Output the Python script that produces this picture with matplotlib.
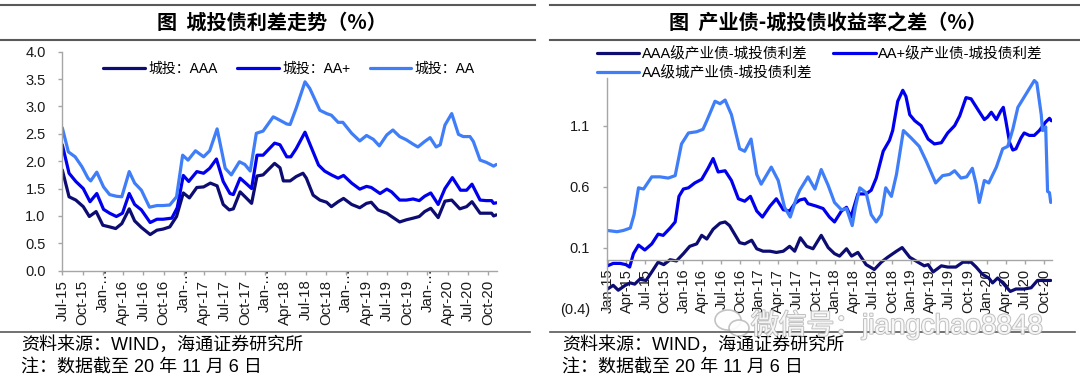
import matplotlib
matplotlib.use("Agg")
import matplotlib.pyplot as plt
import matplotlib.transforms as mtransforms
import matplotlib.patheffects as pe
from matplotlib.lines import Line2D
from matplotlib.patches import Ellipse
from matplotlib.ticker import FuncFormatter

# ---- left chart: 城投债利差走势, x = months since Jul-15 ----
ct_aaa_m = [0, 1.0, 2.0, 3.1, 4.0, 5.0, 6.0, 7.0, 7.9, 8.8, 9.9, 10.7, 11.7, 13.0, 14.0, 14.9, 15.9, 16.9,
            17.9, 18.8, 19.9, 20.9, 21.9, 22.9, 23.8, 24.7, 25.3, 26.3, 27.2, 28.0, 28.8, 29.7, 31.4, 32.2,
            32.7, 33.7, 34.6, 35.6, 36.1, 37.1, 38.1, 39.1, 39.8, 40.8, 41.6, 42.8, 44.0, 45.0, 45.7, 46.7,
            48.0, 48.7, 49.9, 50.9, 51.9, 52.8, 53.6, 54.5, 55.6, 56.6, 57.6, 58.8, 59.8, 60.6, 61.8, 62.7,
            63.5, 63.8, 64.2]
ct_aaa_v = [1.84, 1.35, 1.29, 1.17, 0.99, 1.08, 0.83, 0.80, 0.77, 0.86, 1.13, 0.91, 0.79, 0.66, 0.74, 0.76,
            0.80, 0.99, 1.42, 1.33, 1.52, 1.53, 1.60, 1.55, 1.21, 1.11, 1.13, 1.44, 1.33, 1.23, 1.73, 1.75,
            1.96, 1.88, 1.64, 1.64, 1.72, 1.78, 1.69, 1.38, 1.29, 1.25, 1.17, 1.26, 1.32, 1.21, 1.15, 1.23,
            1.25, 1.11, 1.05, 0.99, 0.89, 0.93, 0.96, 0.99, 1.08, 1.14, 0.97, 1.27, 1.29, 1.13, 1.17, 1.26,
            1.05, 1.05, 1.05, 1.00, 1.02]

ct_aap_m = [0, 1.0, 2.0, 3.1, 4.1, 5.1, 6.1, 7.0, 8.0, 8.9, 9.9, 10.7, 11.7, 13.0, 14.0, 14.9, 16.2, 17.0,
            17.9, 18.7, 19.9, 20.9, 21.8, 22.8, 23.8, 24.8, 25.3, 26.3, 27.3, 28.0, 28.8, 29.7, 31.4, 32.2,
            33.2, 33.8, 34.6, 35.9, 36.9, 37.9, 38.8, 39.8, 40.8, 41.6, 42.8, 44.0, 45.0, 45.7, 47.0, 48.0,
            48.7, 49.9, 50.9, 51.9, 52.8, 53.6, 54.5, 55.6, 56.6, 57.7, 58.9, 59.8, 60.6, 61.8, 62.7, 63.5,
            63.8, 64.2]
ct_aap_v = [2.30, 1.78, 1.63, 1.50, 1.26, 1.41, 1.12, 1.05, 0.99, 1.05, 1.41, 1.21, 1.11, 0.88, 0.94, 0.94,
            0.96, 1.15, 1.74, 1.63, 1.81, 1.78, 1.87, 2.04, 1.63, 1.41, 1.39, 1.69, 1.58, 1.50, 2.11, 2.11,
            2.33, 2.30, 2.08, 2.08, 2.23, 2.53, 2.23, 1.93, 1.82, 1.75, 1.69, 1.74, 1.60, 1.49, 1.54, 1.52,
            1.41, 1.49, 1.44, 1.29, 1.29, 1.31, 1.28, 1.36, 1.42, 1.21, 1.50, 1.70, 1.47, 1.47, 1.58, 1.29,
            1.28, 1.28, 1.23, 1.24]

ct_aa_m = [0, 0.9, 1.9, 2.9, 3.8, 4.2, 5.1, 6.1, 7.0, 8.0, 8.8, 9.9, 10.7, 11.7, 12.9, 14.0, 14.9, 15.9,
           16.9, 17.8, 18.6, 19.7, 20.9, 21.8, 22.9, 23.6, 24.1, 25.0, 26.2, 27.0, 27.8, 28.7, 29.7, 31.2,
           31.7, 33.2, 33.7, 34.6, 35.9, 36.6, 38.1, 39.1, 39.8, 40.8, 41.5, 42.8, 44.0, 45.0, 46.0, 46.9,
           48.0, 48.9, 49.9, 50.9, 51.9, 52.6, 53.6, 54.4, 55.3, 55.9, 56.6, 57.6, 58.6, 59.3, 60.3, 60.8,
           61.8, 62.7, 63.5, 63.8, 64.2]
ct_aa_v = [2.61, 2.17, 2.08, 1.90, 1.69, 1.64, 1.80, 1.53, 1.39, 1.36, 1.35, 1.81, 1.60, 1.47, 1.16, 1.19,
           1.19, 1.20, 1.35, 2.11, 2.02, 2.19, 2.08, 2.19, 2.59, 2.17, 1.87, 1.75, 1.99, 1.94, 1.82, 2.51,
           2.55, 2.81, 2.78, 2.68, 2.67, 2.97, 3.45, 3.33, 2.93, 2.87, 2.84, 2.71, 2.71, 2.51, 2.37, 2.47,
           2.40, 2.28, 2.48, 2.57, 2.45, 2.39, 2.31, 2.26, 2.36, 2.43, 2.26, 2.30, 2.66, 2.87, 2.49, 2.45,
           2.45, 2.36, 2.02, 1.98, 1.93, 1.91, 1.94]

left_ticks = ['Jul-15', 'Oct-15', 'Jan-…', 'Apr-16', 'Jul-16', 'Oct-16', 'Jan-…', 'Apr-17', 'Jul-17',
              'Oct-17', 'Jan-…', 'Apr-18', 'Jul-18', 'Oct-18', 'Jan-…', 'Apr-19', 'Jul-19', 'Oct-19',
              'Jan-…', 'Apr-20', 'Jul-20', 'Oct-20']
left_names = ['城投：AAA', '城投：AA+', '城投：AA']

# ---- right chart: 产业债-城投债收益率之差, x = months since Jan-15 ----
cy_aaa_m = [0, 0.9, 1.7, 2.8, 3.6, 4.3, 5.1, 6.1, 7.0, 8.0, 8.9, 9.9, 10.9, 12.0, 13.0, 14.1, 14.9, 15.7,
            16.7, 17.8, 18.6, 19.3, 20.1, 20.9, 21.7, 22.8, 23.6, 24.6, 25.7, 26.7, 27.8, 28.8, 29.6, 30.5,
            31.5, 32.5, 33.8, 34.9, 35.9, 36.7, 37.8, 38.6, 39.6, 40.9, 42.2, 43.3, 44.3, 45.7, 46.6, 47.8,
            49.1, 50.1, 50.7, 51.5, 52.8, 53.8, 55.1, 56.2, 57.5, 58.3, 59.3, 60.3, 60.9, 61.7, 62.5, 63.7,
            64.6, 65.9, 67.0, 68.0, 69.1, 70.1]
cy_aaa_v = [-0.24, -0.21, -0.25, -0.21, -0.19, -0.20, -0.16, -0.17, -0.10, -0.02, -0.04, 0.00, -0.01,
            0.05, 0.11, 0.13, 0.20, 0.17, 0.25, 0.30, 0.31, 0.28, 0.21, 0.14, 0.13, 0.16, 0.09, 0.07, 0.07,
            0.06, 0.07, 0.11, 0.07, 0.18, 0.11, 0.09, 0.20, 0.10, 0.05, 0.03, 0.09, 0.03, 0.06, -0.04, -0.08,
            -0.02, 0.02, 0.07, 0.10, 0.02, -0.02, -0.05, -0.04, -0.10, -0.05, -0.06, -0.06, -0.02, -0.02,
            -0.06, -0.12, -0.15, -0.19, -0.15, -0.19, -0.26, -0.24, -0.24, -0.23, -0.17, -0.17, -0.17]

cy_aap_m = [0, 0.9, 2.0, 2.9, 3.5, 4.1, 4.9, 5.9, 7.0, 8.0, 8.8, 9.9, 10.7, 11.3, 12.0, 12.8, 13.8, 14.9,
            15.9, 16.7, 17.5, 18.6, 19.6, 20.7, 21.7, 22.6, 23.6, 24.5, 25.7, 26.7, 27.8, 28.8, 29.6, 30.4,
            31.2, 31.7, 33.0, 34.1, 35.1, 35.9, 37.0, 37.8, 38.5, 39.6, 40.9, 41.7, 42.5, 43.6, 44.6, 45.1,
            45.9, 46.7, 47.2, 47.8, 48.6, 49.6, 50.7, 51.7, 52.8, 53.8, 54.9, 55.7, 56.7, 57.5, 58.6, 59.6,
            60.1, 60.7, 61.5, 62.2, 62.6, 63.0, 63.6, 64.1, 64.6, 65.4, 65.9, 66.7, 67.5, 68.3, 69.3, 69.9,
            70.2]
cy_aap_v = [-0.05, -0.03, -0.03, -0.04, -0.06, 0.05, 0.12, 0.08, 0.13, 0.21, 0.20, 0.26, 0.31, 0.52, 0.58,
            0.59, 0.63, 0.66, 0.75, 0.83, 0.72, 0.73, 0.65, 0.50, 0.48, 0.52, 0.40, 0.35, 0.44, 0.50, 0.41,
            0.40, 0.46, 0.49, 0.50, 0.46, 0.44, 0.42, 0.35, 0.31, 0.40, 0.43, 0.35, 0.54, 0.54, 0.57, 0.67,
            0.89, 0.98, 1.06, 1.30, 1.39, 1.34, 1.19, 1.14, 1.10, 0.99, 0.95, 0.96, 1.04, 1.10, 1.18, 1.33,
            1.32, 1.23, 1.15, 1.17, 1.21, 1.15, 1.22, 1.25, 1.14, 0.96, 0.90, 0.91, 1.00, 1.04, 1.02, 1.02,
            1.06, 1.13, 1.16, 1.14]

cy_aa_m = [0, 1.5, 2.5, 3.6, 4.2, 4.9, 5.7, 7.0, 8.3, 9.6, 10.7, 11.7, 12.8, 14.1, 15.1, 15.7, 17.0, 17.8,
           18.6, 19.6, 20.9, 21.7, 22.7, 23.6, 24.3, 25.9, 27.0, 28.0, 28.9, 29.9, 30.4, 31.7, 32.8, 33.8,
           34.9, 35.9, 37.0, 37.8, 38.7, 39.2, 39.9, 40.9, 41.7, 42.5, 43.3, 44.0, 44.9, 45.7, 46.8, 48.0,
           49.3, 50.4, 51.9, 53.0, 54.1, 54.9, 55.9, 56.8, 57.7, 58.3, 58.8, 59.6, 60.3, 61.5, 62.5, 63.3,
           64.1, 64.9, 66.2, 67.5, 67.9, 68.6, 68.8, 69.2, 69.3, 69.6, 69.9, 70.1]
cy_aa_v = [0.24, 0.23, 0.24, 0.26, 0.37, 0.59, 0.58, 0.68, 0.68, 0.67, 0.69, 0.95, 1.04, 1.05, 1.07, 1.14,
           1.30, 1.28, 1.31, 1.19, 0.91, 0.89, 0.99, 0.70, 0.62, 0.76, 0.65, 0.43, 0.35, 0.51, 0.57, 0.68,
           0.58, 0.74, 0.61, 0.47, 0.41, 0.42, 0.28, 0.43, 0.59, 0.55, 0.37, 0.31, 0.37, 0.59, 0.52, 0.70,
           1.06, 1.00, 0.93, 0.81, 0.63, 0.69, 0.70, 0.73, 0.67, 0.68, 0.75, 0.62, 0.47, 0.65, 0.63, 0.76,
           0.91, 0.93, 1.07, 1.25, 1.36, 1.47, 1.45, 1.19, 1.06, 1.07, 1.09, 0.56, 0.55, 0.47]

right_ticks = [f'{m}-{y}' for y in range(15, 21) for m in ['Jan', 'Apr', 'Jul', 'Oct']]
right_names = ['AAA级产业债-城投债利差', 'AA+级产业债-城投债利差', 'AA级城产业债-城投债利差']

NAVY, BLUE, LIGHT = '#0c0c72', '#0000ee', '#3f7ef8'
GRID = '#a6a6a6'
LAT = ['Liberation Sans', 'Noto Sans CJK SC']
CJK = ['Noto Sans CJK SC', 'Liberation Sans']

W, H = 1080, 375
fig = plt.figure(figsize=(W / 100, H / 100), dpi=100)


def fx(px):
    return px / W


def fy(py):
    return 1 - py / H


def style_axes(ax):
    for s in ['top', 'right']:
        ax.spines[s].set_visible(False)
    for s in ['left', 'bottom']:
        ax.spines[s].set_color(GRID)
        ax.spines[s].set_linewidth(1.0)
    ax.tick_params(colors=GRID, length=3, width=1.0, labelcolor='#1a1a1a')
    ax.tick_params(axis='y', pad=9)


# ---------------- left ----------------
ax1 = fig.add_axes([fx(62.3), fy(270.7), fx(497 - 62.3), (270.7 - 51.7) / H])
style_axes(ax1)
kw = dict(lw=2.3, solid_joinstyle='round', solid_capstyle='round')
ax1.plot(ct_aaa_m, ct_aaa_v, color=NAVY, label=left_names[0], **kw)
ax1.plot(ct_aap_m, ct_aap_v, color=BLUE, label=left_names[1], **kw)
ax1.plot(ct_aa_m, ct_aa_v, color=LIGHT, label=left_names[2], **kw)
ax1.set_xlim(0, 64.3)
ax1.set_ylim(0, 4.0)
ax1.set_yticks([i * 0.5 for i in range(9)])
ax1.yaxis.set_major_formatter(FuncFormatter(lambda v, p: f'{v:.1f}'))
ax1.set_xticks([3 * i for i in range(len(left_ticks))])
ax1.set_xticklabels(left_ticks, rotation=90, fontsize=10.8, family=LAT)
for lab in ax1.get_yticklabels():
    lab.set_fontsize(10.5)
    lab.set_family(LAT)
shift = mtransforms.ScaledTranslation(0, 12 / 100, fig.dpi_scale_trans)
for lab in ax1.get_xticklabels():
    if lab.get_text().startswith('Jan'):
        lab.set_transform(lab.get_transform() + shift)
ax1.legend(loc='center left', bbox_to_anchor=(fx(103), fy(69)), bbox_transform=fig.transFigure,
           ncol=3, frameon=False, prop={'family': LAT, 'size': 10}, handlelength=3.0,
           handletextpad=0.25, columnspacing=1.4, borderpad=0, borderaxespad=0)

# ---------------- right ----------------
ax2 = fig.add_axes([fx(606.7), fy(308.5), fx(1052 - 606.7), (308.5 - 64.7) / H])
style_axes(ax2)
ax2.plot(cy_aaa_m, cy_aaa_v, color=NAVY, label=right_names[0], **kw)
ax2.plot(cy_aap_m, cy_aap_v, color=BLUE, label=right_names[1], **kw)
ax2.plot(cy_aa_m, cy_aa_v, color=LIGHT, label=right_names[2], **kw)
ax2.set_xlim(-0.13, 70.3)
ax2.set_ylim(-0.4, 1.6)
ax2.spines['bottom'].set_position(('data', 0))
ax2.spines['left'].set_bounds(-0.4, 1.49)
ax2.set_yticks([-0.4, 0.1, 0.6, 1.1])
ax2.yaxis.set_major_formatter(FuncFormatter(lambda v, p: f'({abs(v):.1f})' if v < 0 else f'{v:.1f}'))
ax2.set_xticks([3 * i for i in range(len(right_ticks))])
ax2.set_xticklabels(right_ticks, rotation=90, fontsize=10.5, family=LAT)
for lab in ax2.get_yticklabels():
    lab.set_fontsize(10.5)
    lab.set_family(LAT)
h, l = ax2.get_legend_handles_labels()
order = [0, 2, 1]
ax2.legend([h[i] for i in order], [l[i] for i in order], loc='upper left',
           bbox_to_anchor=(fx(597), fy(47)), bbox_transform=fig.transFigure, ncol=2, frameon=False,
           prop={'family': LAT, 'size': 10.5}, handlelength=2.9, handletextpad=0.2,
           columnspacing=1.4, labelspacing=0.3, borderpad=0, borderaxespad=0)

# ---------------- frame: title bars and footers ----------------
for x0, x1 in [(0, 535), (550, 1080)]:
    for yy in [5, 40]:
        fig.add_artist(Line2D([fx(x0), fx(x1)], [fy(yy)] * 2, color='#595959', lw=1.5))
    fig.add_artist(Line2D([fx(x0), fx(x1 - 5)], [fy(332)] * 2, color='#595959', lw=1.2))

fig.text(fx(272), fy(22.5), '图  城投债利差走势（%）', ha='center', va='center', fontsize=14.5,
         fontweight='bold', family=CJK)
fig.text(fx(828), fy(22.5), '图  产业债-城投债收益率之差（%）', ha='center', va='center', fontsize=14.5,
         fontweight='bold', family=CJK)

for x0 in [21, 562]:
    fig.text(fx(x0), fy(345), '资料来源：WIND，海通证券研究所', ha='left', va='center', fontsize=13,
             family=LAT)
    fig.text(fx(x0), fy(367), '注：数据截至 20 年 11 月 6 日', ha='left', va='center', fontsize=13,
             family=LAT)

# watermark
wm = dict(transform=fig.transFigure, facecolor='white', edgecolor='#bdbdbd', lw=1.2, alpha=0.9)
fig.add_artist(Ellipse((fx(728), fy(320)), fx(26), 20 / H, **wm))
fig.add_artist(Ellipse((fx(739), fy(328)), fx(20), 16 / H, **wm))
fig.text(fx(751), fy(325), '微信号：jiangchao8848', ha='left', va='center', fontsize=20, family=LAT,
         color='white', alpha=0.85,
         path_effects=[pe.withStroke(linewidth=1.4, foreground='#b5b5b5')])

fig.savefig('out.png', dpi=100)
